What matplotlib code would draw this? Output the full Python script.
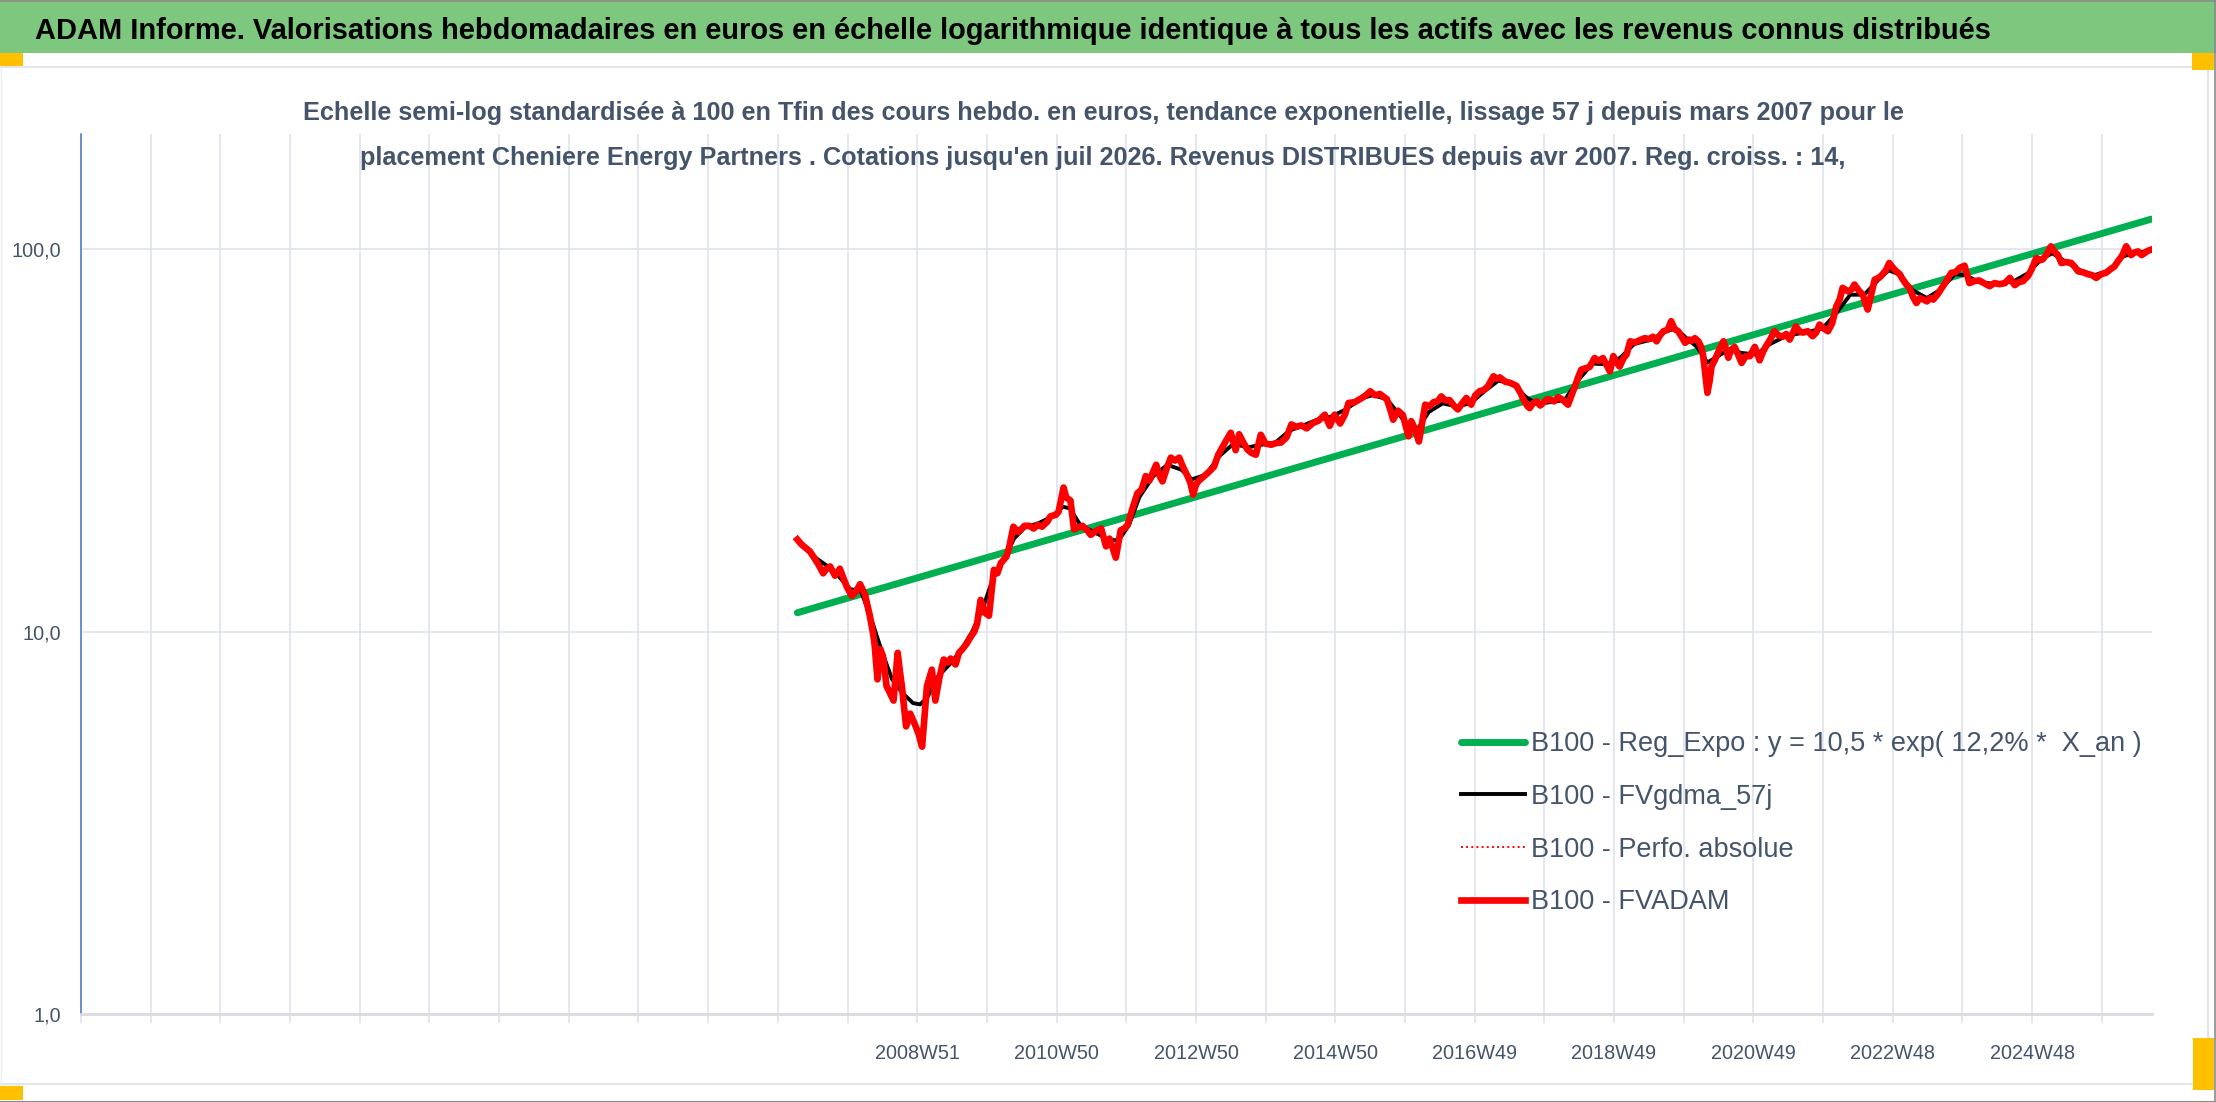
import matplotlib
matplotlib.use("Agg")
import matplotlib.pyplot as plt
from matplotlib.patches import Rectangle
from matplotlib.lines import Line2D

plt.rcParams['font.family'] = ['Liberation Sans', 'DejaVu Sans']

# ---- data (decimal years, base-100 values) ----
red_years = [
    2007.24, 2007.30, 2007.35, 2007.42, 2007.47, 2007.54, 2007.61, 2007.66, 2007.71, 2007.78,
    2007.85, 2007.90, 2007.95, 2008.02, 2008.08, 2008.14, 2008.21, 2008.28, 2008.33, 2008.35,
    2008.39, 2008.43, 2008.47, 2008.52, 2008.57, 2008.62, 2008.68, 2008.71, 2008.74, 2008.80,
    2008.86, 2008.93, 2008.98, 2009.03, 2009.10, 2009.17, 2009.22, 2009.28, 2009.34, 2009.40,
    2009.44, 2009.51, 2009.56, 2009.61, 2009.67, 2009.73, 2009.78, 2009.82, 2009.87, 2009.93,
    2009.99, 2010.06, 2010.11, 2010.16, 2010.24, 2010.28, 2010.34, 2010.41, 2010.45, 2010.50,
    2010.57, 2010.63, 2010.69, 2010.75, 2010.83, 2010.87, 2010.95, 2010.99, 2011.06, 2011.10,
    2011.16, 2011.21, 2011.26, 2011.33, 2011.40, 2011.45, 2011.52, 2011.60, 2011.67, 2011.72,
    2011.81, 2011.88, 2011.93, 2011.98, 2012.05, 2012.12, 2012.18, 2012.24, 2012.29, 2012.34,
    2012.39, 2012.44, 2012.48, 2012.54, 2012.60, 2012.66, 2012.72, 2012.78, 2012.84, 2012.88,
    2012.92, 2012.96, 2013.00, 2013.08, 2013.15, 2013.22, 2013.28, 2013.32, 2013.39, 2013.46,
    2013.53, 2013.58, 2013.64, 2013.70, 2013.76, 2013.82, 2013.89, 2013.96, 2014.04, 2014.11,
    2014.18, 2014.26, 2014.33, 2014.40, 2014.47, 2014.55, 2014.64, 2014.72, 2014.81, 2014.88,
    2014.95, 2015.03, 2015.10, 2015.15, 2015.24, 2015.34, 2015.40, 2015.46, 2015.53, 2015.60,
    2015.66, 2015.70, 2015.76, 2015.79, 2015.86, 2015.93, 2016.01, 2016.05, 2016.10, 2016.16,
    2016.25, 2016.31, 2016.37, 2016.43, 2016.48, 2016.54, 2016.60, 2016.66, 2016.72, 2016.78,
    2016.84, 2016.91, 2016.97, 2017.03, 2017.09, 2017.15, 2017.23, 2017.28, 2017.32, 2017.40,
    2017.47, 2017.56, 2017.62, 2017.66, 2017.72, 2017.75, 2017.80, 2017.85, 2017.90, 2017.94,
    2018.00, 2018.04, 2018.10, 2018.16, 2018.22, 2018.30, 2018.35, 2018.40, 2018.45, 2018.49,
    2018.55, 2018.61, 2018.68, 2018.74, 2018.80, 2018.86, 2018.90, 2018.95, 2019.00, 2019.04,
    2019.10, 2019.14, 2019.19, 2019.26, 2019.33, 2019.40, 2019.46, 2019.52, 2019.57, 2019.62,
    2019.67, 2019.73, 2019.78, 2019.83, 2019.88, 2019.93, 2019.98, 2020.04, 2020.07, 2020.12,
    2020.17, 2020.21, 2020.24, 2020.27, 2020.30, 2020.33, 2020.36, 2020.40, 2020.43, 2020.48,
    2020.53, 2020.57, 2020.60, 2020.64, 2020.69, 2020.74, 2020.79, 2020.85, 2020.91, 2020.98,
    2021.05, 2021.10, 2021.14, 2021.20, 2021.26, 2021.32, 2021.38, 2021.43, 2021.48, 2021.57,
    2021.62, 2021.67, 2021.74, 2021.81, 2021.86, 2021.91, 2021.97, 2022.03, 2022.09, 2022.15,
    2022.20, 2022.24, 2022.32, 2022.37, 2022.41, 2022.47, 2022.53, 2022.57, 2022.60, 2022.65,
    2022.70, 2022.75, 2022.79, 2022.86, 2022.91, 2022.96, 2023.01, 2023.06, 2023.10, 2023.15,
    2023.20, 2023.25, 2023.30, 2023.35, 2023.39, 2023.45, 2023.50, 2023.54, 2023.60, 2023.65,
    2023.72, 2023.80, 2023.86, 2023.92, 2023.99, 2024.06, 2024.13, 2024.20, 2024.27, 2024.35,
    2024.42, 2024.49, 2024.57, 2024.64, 2024.71, 2024.77, 2024.83, 2024.90, 2024.95, 2025.02,
    2025.07, 2025.11, 2025.17, 2025.23, 2025.28, 2025.33, 2025.38, 2025.45, 2025.52, 2025.57,
    2025.62, 2025.69, 2025.76, 2025.82, 2025.88, 2025.95, 2026.02, 2026.08, 2026.14, 2026.19,
    2026.25, 2026.31, 2026.38, 2026.43, 2026.48, 2026.53, 2026.57, 2026.62, 2026.67,
]
red_vals = [
    17.4, 16.9, 16.6, 16.2, 15.7, 15.0, 14.2, 14.6, 14.8, 14.0,
    14.6, 13.8, 13.1, 12.4, 12.7, 13.3, 12.5, 11.0, 9.8, 9.2,
    7.5, 9.0, 8.6, 7.2, 6.9, 6.6, 8.8, 7.9, 7.2, 5.65,
    6.1, 5.7, 5.4, 5.0, 7.2, 7.95, 6.6, 7.6, 8.45, 8.3,
    8.5, 8.2, 8.8, 9.0, 9.3, 9.7, 10.0, 10.5, 12.1, 11.2,
    11.0, 14.5, 14.2, 15.1, 15.7, 16.6, 18.8, 18.2, 18.5, 18.9,
    18.9, 18.6, 19.0, 18.8, 19.4, 20.0, 20.2, 20.6, 23.8, 22.4,
    22.0, 18.5, 18.7, 18.9, 18.4, 17.9, 18.3, 18.6, 16.7, 17.5,
    15.6, 18.4, 18.6, 19.0, 21.0, 23.0, 23.5, 25.5, 24.8, 26.0,
    27.3, 25.5, 24.7, 26.7, 28.5, 28.0, 28.5, 26.8, 25.5, 24.5,
    22.8, 24.2, 24.8, 25.5, 26.2, 27.0, 29.0, 29.9, 31.5, 33.1,
    29.8, 32.8, 31.2, 29.9, 29.3, 29.0, 32.7, 31.0, 30.8, 31.1,
    31.2, 32.2, 34.8, 34.3, 34.6, 34.0, 35.1, 35.6, 36.9, 34.5,
    36.9, 35.0, 37.0, 39.6, 39.8, 40.8, 41.5, 42.5, 41.5, 41.8,
    41.0, 40.5, 37.5, 35.8, 37.8, 36.8, 32.4, 35.5, 34.0, 31.4,
    39.2, 38.8, 39.8, 40.0, 41.2, 40.2, 40.3, 39.0, 38.1, 39.5,
    40.8, 39.2, 41.5, 42.5, 42.8, 43.8, 46.5, 45.8, 46.2, 45.0,
    44.7, 43.9, 42.0, 40.4, 38.8, 38.4, 39.6, 40.0, 39.0, 39.6,
    40.5, 40.4, 40.0, 41.0, 40.4, 39.2, 41.5, 43.8, 46.5, 48.4,
    48.8, 49.2, 51.9, 51.0, 51.9, 49.5, 47.9, 52.5, 50.5, 49.3,
    52.0, 53.0, 57.4, 57.0, 57.8, 58.5, 58.2, 59.0, 57.4, 59.5,
    61.0, 61.5, 64.8, 61.8, 61.0, 59.0, 56.9, 58.0, 57.6, 58.5,
    57.4, 55.5, 52.5, 47.0, 42.1, 45.0, 49.4, 51.0, 52.5, 55.0,
    57.4, 54.5, 52.0, 54.5, 55.5, 53.0, 50.4, 52.5, 52.5, 55.5,
    51.2, 54.0, 55.7, 58.0, 61.0, 59.5, 59.0, 60.0, 58.0, 62.8,
    61.0, 60.5, 61.0, 59.2, 60.5, 63.5, 62.0, 61.0, 64.0, 70.9,
    74.0, 79.2, 77.5, 78.5, 80.8, 78.0, 76.0, 72.0, 69.5, 76.0,
    83.2, 84.0, 85.0, 88.0, 92.0, 89.5, 87.5, 86.0, 83.5, 81.0,
    79.2, 75.0, 72.3, 74.5, 74.0, 73.0, 74.5, 73.8, 76.0, 78.5,
    82.0, 86.7, 87.0, 89.3, 90.5, 81.5, 82.5, 82.8, 81.5, 80.0,
    81.5, 81.0, 81.5, 84.1, 80.5, 82.0, 82.5, 85.0, 88.4, 94.8,
    93.5, 94.0, 97.0, 101.7, 98.5, 96.5, 92.0, 92.5, 92.0, 90.0,
    87.5, 87.0, 86.0, 85.5, 84.1, 86.0, 86.7, 88.5, 90.0, 92.9,
    96.0, 101.7, 96.5, 98.0, 98.6, 96.5, 97.5, 99.0, 99.7,
]

black_years = [
    2007.24, 2007.50, 2007.75, 2008.00, 2008.15, 2008.30, 2008.45, 2008.60, 2008.75, 2008.90,
    2009.00, 2009.10, 2009.25, 2009.45, 2009.60, 2009.75, 2009.90, 2010.05, 2010.20, 2010.35,
    2010.50, 2010.70, 2010.90, 2011.05, 2011.15, 2011.30, 2011.50, 2011.70, 2011.85, 2012.00,
    2012.15, 2012.35, 2012.55, 2012.75, 2012.90, 2013.10, 2013.30, 2013.50, 2013.70, 2013.90,
    2014.10, 2014.30, 2014.50, 2014.70, 2014.90, 2015.10, 2015.35, 2015.50, 2015.70, 2015.85,
    2016.00, 2016.15, 2016.30, 2016.50, 2016.70, 2016.90, 2017.10, 2017.30, 2017.50, 2017.70,
    2017.85, 2018.05, 2018.25, 2018.45, 2018.65, 2018.85, 2019.05, 2019.25, 2019.50, 2019.70,
    2019.85, 2020.00, 2020.15, 2020.30, 2020.45, 2020.60, 2020.80, 2021.00, 2021.20, 2021.45,
    2021.70, 2021.95, 2022.15, 2022.35, 2022.55, 2022.75, 2022.90, 2023.05, 2023.25, 2023.45,
    2023.65, 2023.85, 2024.00, 2024.20, 2024.45, 2024.70, 2024.90, 2025.10, 2025.25, 2025.45,
    2025.65, 2025.85, 2026.05, 2026.25, 2026.45, 2026.67,
]
black_vals = [
    17.3, 15.6, 14.5, 12.9, 12.8, 10.8, 8.9, 7.5, 6.9, 6.5,
    6.45, 6.7, 7.6, 8.3, 9.0, 10.0, 11.5, 13.8, 15.4, 17.5,
    18.7, 19.2, 20.0, 21.2, 21.0, 19.0, 18.2, 17.4, 17.3, 19.0,
    22.5, 25.5, 27.3, 26.5, 25.0, 25.7, 28.8, 31.0, 30.3, 30.8,
    31.2, 33.5, 34.6, 35.8, 36.5, 38.0, 40.8, 41.5, 40.5, 37.5,
    34.5, 34.0, 37.5, 39.5, 38.8, 39.5, 42.5, 45.3, 44.5, 41.0,
    39.4, 39.8, 40.3, 45.5, 50.2, 50.0, 52.0, 56.5, 58.0, 61.0,
    62.0, 58.5, 55.5, 50.5, 52.5, 54.5, 53.5, 53.0, 56.5, 59.5,
    60.5, 62.0, 68.0, 76.0, 76.0, 83.0, 88.0, 86.0, 78.0, 74.5,
    78.5, 86.0, 85.5, 82.0, 81.0, 82.5, 86.5, 94.5, 97.5, 92.5,
    88.0, 85.5, 87.5, 95.5, 98.0, 99.0,
]

trend_years = [2007.24, 2026.67]
trend_vals = [11.2, 119.8]

week_labels = ["2008W51", "2010W50", "2012W50", "2014W50", "2016W49",
               "2018W49", "2020W49", "2022W48", "2024W48"]

title = ("ADAM Informe. Valorisations hebdomadaires en euros en échelle logarithmique "
         "identique à tous les actifs avec les revenus connus distribués")
sub1 = ("Echelle semi-log standardisée à 100 en Tfin des cours hebdo. en euros, tendance "
        "exponentielle, lissage 57 j depuis mars 2007 pour le")
sub2 = ("placement Cheniere Energy Partners . Cotations jusqu'en juil 2026. Revenus "
        "DISTRIBUES depuis avr 2007. Reg. croiss. : 14,")

W, H = 2216, 1102
fig = plt.figure(figsize=(W / 100, H / 100), dpi=100)


def box(x0, y0, x1, y1, color):
    fig.add_artist(Rectangle((x0 / W, 1 - y1 / H), (x1 - x0) / W, (y1 - y0) / H,
                             transform=fig.transFigure, facecolor=color,
                             edgecolor='none', zorder=0))


def seg(x0, y0, x1, y1, color, lw):
    fig.add_artist(Line2D([x0 / W, x1 / W], [1 - y0 / H, 1 - y1 / H],
                          transform=fig.transFigure, color=color, lw=lw, zorder=0))


# frame decorations
box(0, 0, W, 53, '#7DC87E')
seg(0, 0.5, W, 0.5, '#8a8a8a', 1.2)
seg(0, 1101.5, W, 1101.5, '#8a8a8a', 1.5)
seg(W - 1, 0, W - 1, H, '#8a8a8a', 1.2)
seg(0, 67, 2208, 67, '#e2e5ea', 1.6)
seg(0, 1084, 2208, 1084, '#e2e5ea', 1.6)
seg(2208, 67, 2208, 1084, '#e2e5ea', 1.6)
seg(1, 67, 1, 1084, '#eeeeee', 1.0)
box(0, 53, 23, 66, '#FFC000')
box(2192, 53, 2214, 70, '#FFC000')
box(0, 1086, 23, 1100, '#FFC000')
box(2193, 1038, 2214, 1090, '#FFC000')

fig.text(35 / W, 1 - 39 / H, title, fontsize=20.9, fontweight='bold', color='black',
         ha='left', va='baseline')
fig.text(1103 / W, 1 - 120 / H, sub1, fontsize=18.2, fontweight='bold', color='#44546A',
         ha='center', va='baseline')
fig.text(1103 / W, 1 - 165 / H, sub2, fontsize=18.2, fontweight='bold', color='#44546A',
         ha='center', va='baseline')

ax = fig.add_axes([81 / W, 1 - 1014 / H, (2152 - 81) / W, (1014 - 134) / H])
ax.set_yscale('log')
ax.set_ylim(1, 200)
x0 = 1996.96
ax.set_xlim(x0, 2026.68)

grid_c = '#dfe3ea'
ticks = [x0 + k for k in range(30)]
labels = [''] * 30
for i, lab in enumerate(week_labels):
    labels[12 + 2 * i] = lab
ax.set_xticks(ticks)
ax.set_xticklabels(labels)
ax.set_yticks([1, 10, 100])
ax.set_yticklabels(['1,0', '10,0', '100,0'])
ax.minorticks_off()
ax.tick_params(axis='x', direction='out', length=6.5, width=1.2, color=grid_c,
               pad=15, labelsize=14.3, labelcolor='#44546A')
ax.tick_params(axis='y', length=0, pad=14, labelsize=14.3, labelcolor='#44546A')
ax.grid(True, axis='x', color=grid_c, lw=1.2)
for v in (10, 100):
    ax.axhline(v, color=grid_c, lw=1.2, zorder=0.5)

for s in ('top', 'right'):
    ax.spines[s].set_visible(False)
ax.spines['left'].set_color('#4472C4')
ax.spines['left'].set_linewidth(1.1)
ax.spines['bottom'].set_color('#d9dbe0')
ax.spines['bottom'].set_linewidth(2)

l_trend, = ax.plot(trend_years, trend_vals, color='#00B050', lw=5.0,
                   solid_capstyle='round', zorder=3,
                   label='B100 - Reg_Expo : y = 10,5 * exp( 12,2% *  X_an )')
l_black, = ax.plot(black_years, black_vals, color='black', lw=2.8, zorder=4,
                   label='B100 - FVgdma_57j')
l_dot, = ax.plot(red_years, red_vals, color='#FF0000', lw=1.4, ls=':', zorder=4.5,
                 label='B100 - Perfo. absolue')
l_red, = ax.plot(red_years, red_vals, color='#FF0000', lw=4.8, zorder=5,
                 solid_joinstyle='round', label='B100 - FVADAM')

ax.legend(handles=[l_trend, l_black, l_dot, l_red], loc='upper left',
          bbox_to_anchor=(1461 / W, 1 - 731 / H), bbox_transform=fig.transFigure,
          frameon=False, fontsize=19.5, handlelength=2.35, handletextpad=0.25,
          labelspacing=0.99, borderpad=0, borderaxespad=0, labelcolor='#44546A')

fig.savefig('out.png', dpi=100)
